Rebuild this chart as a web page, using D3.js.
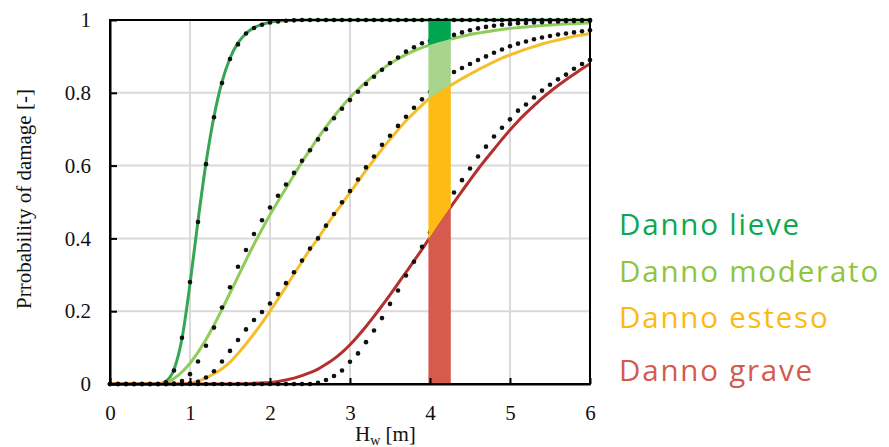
<!DOCTYPE html>
<html><head><meta charset="utf-8">
<script src="https://cdn.jsdelivr.net/npm/d3@7"></script>
<style>body{margin:0;background:#fff}</style>
</head><body><svg id="c" width="889" height="447"></svg>
<script>
const hw = [0,0.1,0.2,0.3,0.4,0.5,0.6,0.7,0.8,0.9,1,1.1,1.2,1.3,1.4,1.5,1.6,1.7,1.8,1.9,2,2.1,2.2,2.3,2.4,2.5,2.6,2.7,2.8,2.9,3,3.1,3.2,3.3,3.4,3.5,3.6,3.7,3.8,3.9,4,4.1,4.2,4.3,4.4,4.5,4.6,4.7,4.8,4.9,5,5.1,5.2,5.3,5.4,5.5,5.6,5.7,5.8,5.9,6];

const lieveLine = [0,0,0,0,0,0,0,0.008,0.04,0.125,0.275,0.448,0.607,0.735,0.83,0.895,0.937,0.963,0.979,0.988,0.994,0.997,0.998,0.999,1,1,1,1,1,1,1,1,1,1,1,1,1,1,1,1,1,1,1,1,1,1,1,1,1,1,1,1,1,1,1,1,1,1,1,1,1];
const lieveDots = [0,0,0,0,0,0,0,0.005,0.037,0.127,0.28,0.445,0.604,0.733,0.827,0.893,0.933,0.963,0.978,0.987,0.993,0.996,0.998,0.999,1,1,1,1,1,1,1,1,1,1,1,1,1,1,1,1,1,1,1,1,1,1,1,1,1,1,1,1,1,1,1,1,1,1,1,1,1];
const moderatoLine = [0,0,0,0,0,0,0,0.003,0.015,0.033,0.057,0.087,0.122,0.162,0.205,0.25,0.295,0.34,0.384,0.425,0.465,0.502,0.538,0.574,0.61,0.643,0.676,0.706,0.735,0.762,0.787,0.809,0.829,0.848,0.865,0.88,0.893,0.905,0.915,0.924,0.931,0.938,0.944,0.95,0.955,0.96,0.964,0.968,0.971,0.974,0.977,0.979,0.981,0.983,0.985,0.986,0.988,0.989,0.99,0.991,0.992];
const moderatoDots = [0,0,0,0,0,0,0,0,0.001,0.008,0.027,0.062,0.105,0.155,0.21,0.266,0.322,0.368,0.412,0.45,0.485,0.517,0.548,0.58,0.613,0.642,0.672,0.7,0.73,0.756,0.78,0.803,0.824,0.844,0.863,0.882,0.897,0.913,0.925,0.936,0.943,0.949,0.954,0.959,0.966,0.972,0.977,0.981,0.984,0.987,0.989,0.991,0.992,0.993,0.994,0.995,0.996,0.997,0.997,0.998,0.998];
const estesoLine = [0,0,0,0,0,0,0,0,0,0,0.002,0.008,0.017,0.028,0.042,0.06,0.084,0.11,0.138,0.168,0.2,0.233,0.267,0.302,0.336,0.37,0.4,0.433,0.465,0.495,0.526,0.556,0.587,0.616,0.645,0.672,0.698,0.723,0.745,0.766,0.786,0.8,0.813,0.826,0.839,0.851,0.863,0.874,0.885,0.895,0.904,0.912,0.92,0.927,0.934,0.94,0.945,0.95,0.955,0.959,0.963];
const estesoDots = [0,0,0,0,0,0,0,0,0,0,0.002,0.006,0.018,0.035,0.062,0.091,0.121,0.15,0.176,0.198,0.221,0.247,0.277,0.307,0.339,0.372,0.4,0.435,0.467,0.499,0.53,0.562,0.595,0.625,0.657,0.682,0.709,0.734,0.759,0.782,0.803,0.822,0.84,0.857,0.868,0.879,0.89,0.9,0.91,0.919,0.928,0.935,0.941,0.947,0.952,0.956,0.96,0.963,0.966,0.969,0.972];
const graveLine = [0,0,0,0,0,0,0,0,0,0,0,0,0,0,0,0,0.0005,0.001,0.002,0.003,0.004,0.007,0.011,0.016,0.023,0.031,0.041,0.054,0.069,0.087,0.108,0.132,0.158,0.186,0.215,0.245,0.276,0.307,0.338,0.37,0.403,0.436,0.468,0.499,0.53,0.56,0.59,0.618,0.645,0.672,0.698,0.722,0.744,0.765,0.785,0.803,0.82,0.836,0.851,0.866,0.88];
const graveDots = [0,0,0,0,0,0,0,0,0,0,0,0,0,0,0,0,0,0,0,0,0,0,0,0,0,0,0.003,0.011,0.022,0.037,0.061,0.084,0.115,0.147,0.181,0.22,0.257,0.298,0.336,0.377,0.416,0.455,0.49,0.526,0.56,0.592,0.625,0.652,0.68,0.704,0.727,0.751,0.768,0.787,0.806,0.822,0.837,0.85,0.866,0.879,0.89];

const legendLabels = ["Danno lieve","Danno moderato","Danno esteso","Danno grave"];
const xTicks = [0,1,2,3,4,5,6];
const yTicks = [0,0.2,0.4,0.6,0.8,1];
const barRange = [3.98, 4.26];

const lineColors = ["#36a554","#8fcc5a","#f5be2b","#b3302f"];
const barColors  = ["#00a54f","#a8d48b","#fdbb13","#d75a4f"];
const textColors = ["#0ba84f","#8dc541","#fdb913","#d45a4e"];
const SERIF = "'Liberation Serif', Tinos, 'Times New Roman', Times, 'Nimbus Roman', FreeSerif, 'DejaVu Serif', 'Noto Serif', serif";

const svg = d3.select("#c");
const x = d3.scaleLinear().domain([0,6]).range([110,590]);
const y = d3.scaleLinear().domain([0,1]).range([384,20]);

svg.append("g").selectAll("line").data(xTicks.slice(1,-1)).join("line")
  .attr("x1",d=>x(d)).attr("x2",d=>x(d)).attr("y1",y(0)).attr("y2",y(1))
  .attr("stroke","#d9d9d9").attr("stroke-width",2);
svg.append("g").selectAll("line").data(yTicks.slice(1,-1)).join("line")
  .attr("y1",d=>y(d)).attr("y2",d=>y(d)).attr("x1",x(0)).attr("x2",x(6))
  .attr("stroke","#d9d9d9").attr("stroke-width",2);

const lines = [lieveLine, moderatoLine, estesoLine, graveLine];
const dots = [lieveDots, moderatoDots, estesoDots, graveDots];

const lineGen = d3.line().x((d,i)=>x(hw[i])).y(d=>y(d)).curve(d3.curveMonotoneX);
lines.forEach((arr,k)=>{
  svg.append("path").attr("d", lineGen(arr)).attr("fill","none")
    .attr("stroke", lineColors[k]).attr("stroke-width",3);
});
dots.forEach(arr=>{
  svg.append("g").selectAll("circle").data(arr).join("circle")
    .attr("cx",(d,i)=>x(hw[i])).attr("cy",d=>y(d)).attr("r",2.3).attr("fill","#111");
});

function interp(arr, v){
  const i = Math.min(hw.length-2, Math.floor(v*10+1e-9));
  const t = (v-hw[i])/(hw[i+1]-hw[i]);
  return arr[i]+(arr[i+1]-arr[i])*t;
}
const bxs = [barRange[0]].concat(hw.filter(h=>h>barRange[0]&&h<barRange[1])).concat([barRange[1]]);
const zero = hw.map(()=>0);
const bounds = [lieveLine, moderatoLine, estesoLine, graveLine, zero];
const area = d3.area().x(d=>x(d.x)).y0(d=>y(d.lo)).y1(d=>y(d.hi));
for(let k=0;k<4;k++){
  const top = bounds[k], bot = bounds[k+1];
  const pts = bxs.map(v=>({x:v, hi:interp(top,v), lo:interp(bot,v)}));
  svg.append("path").attr("d", area(pts)).attr("fill", barColors[k]);
}

svg.append("rect").attr("x",x(0)).attr("y",y(1)).attr("width",x(6)-x(0)).attr("height",y(0)-y(1))
  .attr("fill","none").attr("stroke","#000").attr("stroke-width",2);

const ax = svg.append("g").attr("transform",`translate(0,${y(0)})`)
  .call(d3.axisBottom(x).tickValues(xTicks).tickFormat(d3.format("d")).tickSizeInner(-6).tickSizeOuter(0).tickPadding(21));
const ay = svg.append("g").attr("transform",`translate(${x(0)},0)`)
  .call(d3.axisLeft(y).tickValues(yTicks).tickFormat(d=>d===0||d===1?String(d):d.toFixed(1)).tickSizeInner(-7).tickSizeOuter(0).tickPadding(19));
[ax,ay].forEach(a=>{
  a.attr("font-family",SERIF).attr("font-size",21);
  a.select(".domain").attr("stroke","#000").attr("stroke-width",2);
  a.selectAll(".tick line").attr("stroke","#000").attr("stroke-width",2);
  a.selectAll("text").style("font-family",SERIF).style("font-size","21px").attr("fill","#111");
});

const xt = svg.append("text").attr("x",355).attr("y",441)
  .style("font-family",SERIF).style("font-size","21px").attr("fill","#111");
xt.append("tspan").text("H");
xt.append("tspan").text("w").style("font-size","14px").attr("dy",4);
xt.append("tspan").text(" [m]").attr("dy",-4);

svg.append("text").attr("transform","translate(31,199) rotate(-90)")
  .attr("text-anchor","middle").style("font-family",SERIF).style("font-size","21px").attr("fill","#111")
  .text("Prrobability of damage [-]");

const legY = [235, 281.5, 328, 380.5];
svg.append("g").selectAll("text").data(legendLabels).join("text")
  .attr("x",619).attr("y",(d,i)=>legY[i]).attr("fill",(d,i)=>textColors[i])
  .style("font-family","'Open Sans', sans-serif").style("font-size","29.5px").attr("letter-spacing",1.8)
  .text(d=>d);
</script></body></html>
